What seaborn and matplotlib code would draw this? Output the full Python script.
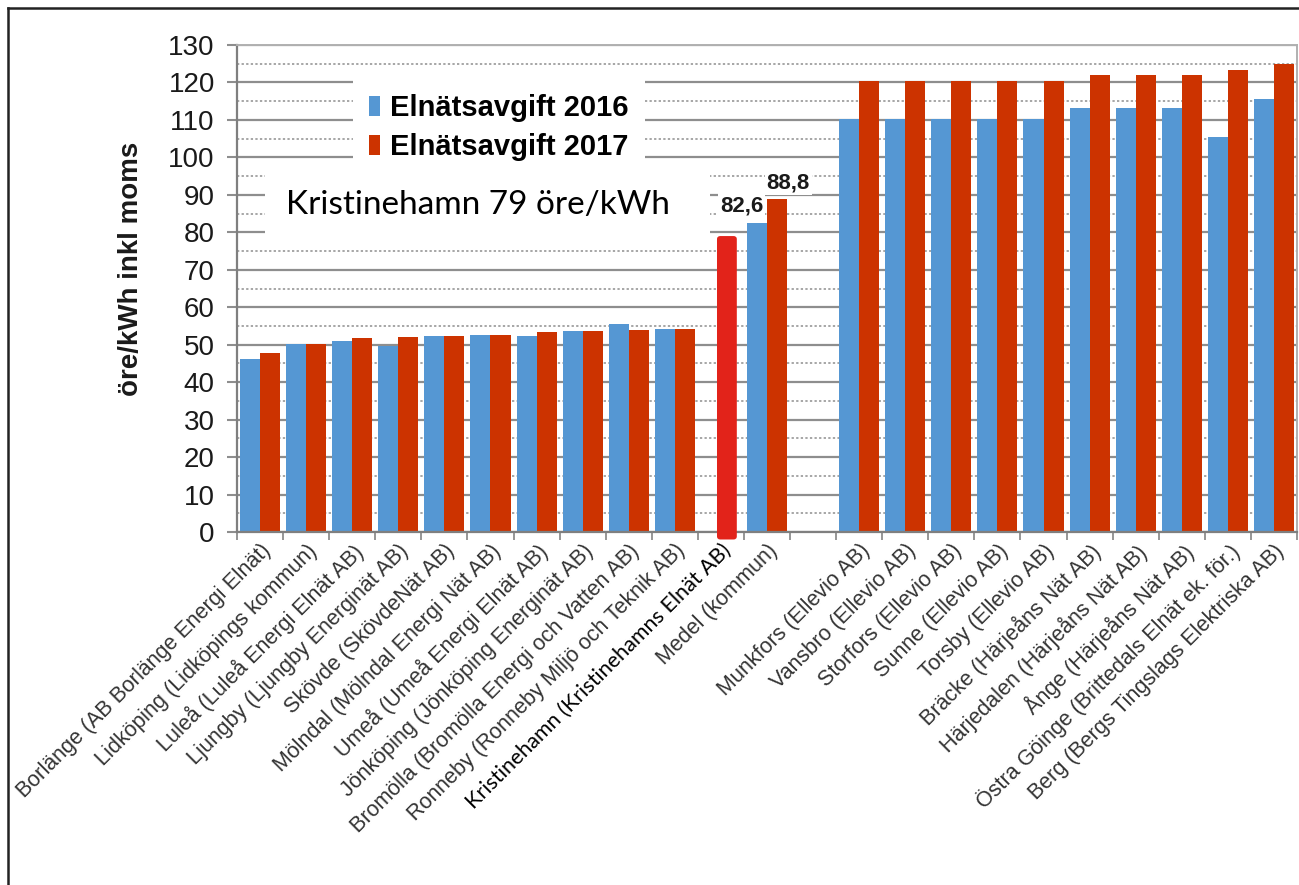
import numpy as np
import pandas as pd
import seaborn as sns
import matplotlib.pyplot as plt
from matplotlib.patches import FancyBboxPatch, Rectangle
from matplotlib.lines import Line2D

# Areas (an empty slot separates the two groups)
names = [
    "Borlänge (AB Borlänge Energi Elnät)",
    "Lidköping (Lidköpings kommun)",
    "Luleå (Luleå Energi Elnät AB)",
    "Ljungby (Ljungby Energinät AB)",
    "Skövde (SkövdeNät AB)",
    "Mölndal (Mölndal Energi Nät AB)",
    "Umeå (Umeå Energi Elnät AB)",
    "Jönköping (Jönköping Energinät AB)",
    "Bromölla (Bromölla Energi och Vatten AB)",
    "Ronneby (Ronneby Miljö och Teknik AB)",
    "Kristinehamn (Kristinehamns Elnät AB)",
    "Medel (kommun)",
    " ",
    "Munkfors (Ellevio AB)",
    "Vansbro (Ellevio AB)",
    "Storfors (Ellevio AB)",
    "Sunne (Ellevio AB)",
    "Torsby (Ellevio AB)",
    "Bräcke (Härjeåns Nät AB)",
    "Härjedalen (Härjeåns Nät AB)",
    "Ånge (Härjeåns Nät AB)",
    "Östra Göinge (Brittedals Elnät ek. för.)",
    "Berg (Bergs Tingslags Elektriska AB)",
]
el2016 = [46.2, 50.3, 51.0, 49.7, 52.3, 52.7, 52.4, 53.7, 55.4, 54.2, None, 82.6, None,
          110.3, 110.3, 110.3, 110.3, 110.3, 113.2, 113.2, 113.2, 105.4, 115.6]
el2017 = [47.9, 50.3, 51.9, 52.1, 52.3, 52.7, 53.3, 53.7, 53.8, 54.2, None, 88.8, None,
          120.5, 120.5, 120.5, 120.5, 120.5, 122.0, 122.0, 122.0, 123.2, 124.9]
series = ["Elnätsavgift 2016", "Elnätsavgift 2017"]
kristinehamn_name = "Kristinehamn (Kristinehamns Elnät AB)"
kristinehamn_value = 79
medel_labels = ["82,6", "88,8"]

BLUE = "#5597d3"
RED = "#cc3300"
KRED = "#e2231a"
GRID = "#8e8e8e"

plt.rcParams['font.family'] = ['Liberation Sans', 'DejaVu Sans']

df = pd.DataFrame({
    "Område": names * 2,
    "Avgift": el2016 + el2017,
    "År": [series[0]] * len(names) + [series[1]] * len(names),
})

fig = plt.figure(figsize=(12.99, 8.85), dpi=100)
ax = fig.add_axes([237 / 1299, 1 - 532 / 885, 1060 / 1299, 487 / 885])

sns.barplot(data=df, x="Område", y="Avgift", hue="År", order=names, hue_order=series,
            palette=[BLUE, RED], width=0.87, saturation=1, errorbar=None, ax=ax)

# Kristinehamn highlighted bar
ki = names.index(kristinehamn_name)
bw = 0.43
kbar = FancyBboxPatch((ki + 0.13 - bw / 2, -2), bw, kristinehamn_value + 2,
                      boxstyle="round,pad=0,rounding_size=0.07", mutation_aspect=12,
                      facecolor=KRED, edgecolor="none", zorder=5, clip_on=False)
ax.add_patch(kbar)

# axes styling
ax.set_xlim(-0.5, len(names) - 0.5)
ax.set_ylim(0, 130)
ax.set_yticks(range(0, 131, 10))
ax.set_yticks(range(5, 130, 10), minor=True)
ax.grid(axis="y", which="major", color=GRID, lw=1.6, ls="-")
ax.grid(axis="y", which="minor", color=GRID, lw=1.1, ls=(0, (1.5, 1.5)))
ax.grid(axis="x", visible=False)
ax.set_axisbelow(True)
ax.tick_params(axis="y", which="major", length=7, width=1.5, color=GRID, labelsize=20,
               pad=9, labelcolor="#1a1a1a")
ax.tick_params(axis="y", which="minor", length=0)

ax.set_xticks(range(len(names)))
ax.set_xticklabels(names, rotation=45, ha="right", rotation_mode="anchor", fontsize=15.5,
                   color="#333333")
ax.set_xticks(np.arange(-0.5, len(names), 1), minor=True)
ax.tick_params(axis="x", which="major", length=0, pad=6)
ax.tick_params(axis="x", which="minor", length=6, width=1.3, color=GRID)
klab = ax.get_xticklabels()[ki]
klab.set_fontfamily("Lato")
klab.set_color("black")
klab.set_fontsize(15.5)

for side in ["left", "bottom"]:
    ax.spines[side].set_color("#7f7f7f")
    ax.spines[side].set_linewidth(1.6)
for side in ["top", "right"]:
    ax.spines[side].set_color("#b0b0b0")
    ax.spines[side].set_linewidth(1.4)

ax.set_xlabel("")
ax.set_ylabel("öre/kWh inkl moms", fontsize=20, fontweight="bold", color="#1a1a1a")
ax.yaxis.set_label_coords(-0.088, 0.54)

# legend
handles, labels = ax.get_legend_handles_labels()
leg = ax.legend(handles, labels, loc="upper left", bbox_to_anchor=(0.109, 0.932),
                borderaxespad=0, frameon=True, fancybox=False, facecolor="white",
                edgecolor="none", framealpha=1, prop={"weight": "bold", "size": 21},
                handlelength=0.4, handleheight=0.7, handletextpad=0.35,
                labelspacing=0.38, borderpad=0.55)
leg.set_zorder(6)

# Kristinehamn annotation box
ax.add_patch(Rectangle((0.026, 0.589), 0.42, 0.154, transform=ax.transAxes,
                       facecolor="white", edgecolor="none", zorder=3))
ax.text(0.227, 0.671, f"Kristinehamn {kristinehamn_value} öre/kWh", transform=ax.transAxes,
        ha="center", va="center", fontsize=24, family="Lato", color="black", zorder=4)

# value labels for Medel
mi = names.index("Medel (kommun)")
medel_vals = [el2016[mi], el2017[mi]]
for lab, val, dx, off in zip(medel_labels, medel_vals, [-11, 8], [-0.2175, 0.2175]):
    ax.annotate(lab, xy=(mi + off, val), xytext=(dx, 12), textcoords="offset points",
                ha="center", va="center", fontsize=16, fontweight="bold", color="#1a1a1a",
                bbox=dict(facecolor="white", edgecolor="none", pad=1.5), zorder=6)

# outer frame (top and left edges)
fig.add_artist(Line2D([8 / 1299, 1], [1 - 8 / 885, 1 - 8 / 885], transform=fig.transFigure,
                      color="#222222", lw=1.8))
fig.add_artist(Line2D([8 / 1299, 8 / 1299], [0, 1 - 8 / 885], transform=fig.transFigure,
                      color="#222222", lw=1.8))

fig.savefig("out.png", dpi=100)
